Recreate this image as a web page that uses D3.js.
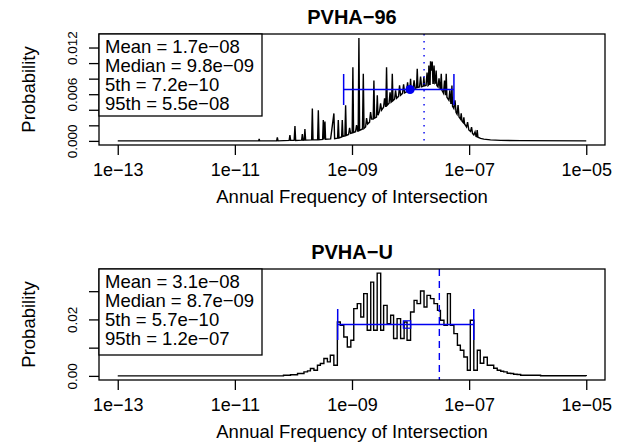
<!DOCTYPE html>
<html><head><meta charset="utf-8">
<script src="https://cdn.jsdelivr.net/npm/d3@7"></script>
<style>
body{margin:0;background:#fff}
svg{display:block;font-family:"Liberation Sans",Arial,Helvetica,sans-serif}
</style>
</head><body>
<svg width="625" height="442"></svg>
<script>
// x axis (log10 of annual frequency)
const xTicks = [1e-13, 1e-11, 1e-9, 1e-7, 1e-5];
const statNames = ["Mean", "Median", "5th", "95th"];

// PVHA-96 : log10 frequency and probability (line with spikes)
const logFreq96 = [-13,-10.73,-10.594,-10.585,-10.577,-10.287,-10.275,-10.263,-10.073,-10.06,-10.048,-9.988,-9.974,-9.962,
  -9.86,-9.848,-9.836,-9.816,-9.804,-9.792,-9.689,-9.677,-9.666,-9.587,-9.575,-9.563,-9.502,-9.49,-9.478,-9.462,-9.451,
  -9.365,-9.309,-9.297,-9.246,-9.234,-9.222,-9.177,-9.166,-9.154,-9.121,-9.109,-9.097,-9.058,-9.041,-9.024,-8.997,-8.985,-8.973,
  -8.939,-8.922,-8.904,-8.894,-8.882,-8.87,-8.821,-8.807,-8.795,-8.768,-8.751,-8.734,-8.7,-8.683,-8.666,-8.638,-8.626,-8.614,
  -8.582,-8.568,-8.556,-8.529,-8.512,-8.495,-8.461,-8.444,-8.427,-8.422,-8.41,-8.398,-8.367,-8.35,-8.333,-8.324,-8.312,-8.3,
  -8.273,-8.256,-8.239,-8.205,-8.188,-8.171,-8.137,-8.119,-8.102,-8.068,-8.051,-8.034,-8.012,-8.0,-7.988,-7.957,-7.94,-7.923,
  -7.898,-7.886,-7.874,-7.846,-7.829,-7.812,-7.785,-7.773,-7.761,-7.735,-7.718,-7.701,-7.693,-7.688,-7.676,-7.667,-7.659,-7.642,
  -7.63,-7.618,-7.613,-7.599,-7.585,-7.573,-7.563,-7.551,-7.531,-7.514,-7.497,-7.488,-7.476,-7.464,-7.437,-7.42,-7.403,-7.391,
  -7.379,-7.346,-7.329,-7.312,-7.305,-7.294,-7.283,-7.261,-7.241,-7.224,-7.206,-7.189,-7.172,-7.147,-7.135,-7.123,-7.102,-7.09,
  -7.078,-7.044,-7.027,-7.005,-6.976,-6.959,-6.942,-6.92,-6.899,-6.882,-6.874,-6.862,-6.85,-6.805,-6.749,-6.635,-6.464,-6.123,-5];
const prob96 = [0,0,0,0.00025,0,0,0.00045,0,0.00006,0.00076,0.00006,0.00006,0.00191,0.00006,
  0.00009,0.00089,0.00009,0.0001,0.00153,0.0001,0.00013,0.00417,0.00013,0.00015,0.00395,0.00015,0.00019,0.00268,0.00019,0.00248,0.00022,
  0.00025,0.00353,0.00029,0.00034,0.00268,0.00038,0.00051,0.00268,0.00057,0.00064,0.00459,0.0007,0.00083,0.00166,0.00096,0.00102,0.00946,0.00108,
  0.00118,0.00204,0.00127,0.00127,0.01321,0.00134,0.00153,0.00862,0.00159,0.00178,0.00293,0.00217,0.00242,0.00369,0.0028,0.0028,0.00777,0.00293,
  0.00306,0.00586,0.00331,0.00382,0.00484,0.00395,0.00433,0.00548,0.00446,0.00446,0.00946,0.00459,0.00484,0.00624,0.00497,0.00503,0.00862,0.00516,
  0.00535,0.0065,0.00548,0.00573,0.00713,0.00586,0.00611,0.00726,0.00618,0.00631,0.00752,0.00637,0.0065,0.00799,0.00656,0.00669,0.00777,0.00675,
  0.00682,0.00926,0.00688,0.00694,0.00828,0.00694,0.00701,0.00819,0.00707,0.00713,0.00879,0.00713,0.0072,0.00968,0.00726,0.00726,0.01023,0.00904,
  0.01019,0.00739,0.00739,0.00968,0.00739,0.00745,0.00904,0.00713,0.00694,0.00803,0.00675,0.00675,0.00862,0.0065,0.00611,0.00777,0.00586,0.00862,
  0.00561,0.00522,0.0065,0.00484,0.00484,0.00713,0.00446,0.00417,0.00522,0.00369,0.00344,0.00459,0.00306,0.0028,0.00353,0.00255,0.00236,0.00302,
  0.00217,0.00178,0.00242,0.0014,0.00121,0.00178,0.00096,0.00076,0.00115,0.00057,0.00055,0.0014,0.00047,0.00032,0.00022,0.00013,0.00006,0.00003,0];
const stats96 = [1.7e-8, 9.8e-9, 7.2e-10, 5.5e-8];

// PVHA-U : log10 frequency (bin start) and probability (step histogram)
const logFreqU = [-13,-10.17,-10.05,-9.93,-9.88,-9.82,-9.76,-9.71,-9.65,-9.59,-9.54,-9.48,-9.42,-9.37,-9.31,-9.25,-9.2,-9.14,
  -9.08,-9.02,-8.97,-8.91,-8.85,-8.8,-8.74,-8.68,-8.63,-8.57,-8.51,-8.46,-8.4,-8.34,-8.29,-8.23,-8.17,-8.11,-8.06,-8.0,-7.94,
  -7.89,-7.83,-7.77,-7.72,-7.66,-7.6,-7.54,-7.49,-7.43,-7.37,-7.32,-7.26,-7.2,-7.15,-7.09,-7.03,-6.98,-6.92,-6.86,-6.81,-6.75,
  -6.69,-6.64,-6.58,-6.52,-6.46,-6.41,-6.35,-6.29,-6.24,-6.18,-6.12,-6.01,-5.78,-5];
const probU = [0,0.00025,0.00042,0.00085,0.00085,0.00141,0.00177,0.00261,0.00201,0.00378,0.00438,0.00615,0.00495,0.00731,0.00378,0.01908,0.01792,0.01378,
  0.01025,0.01261,0.02382,0.02558,0.02085,0.02912,0.01615,0.03322,0.01615,0.0364,0.01615,0.02498,0.01852,0.02145,0.01322,0.02028,0.01322,0.01908,0.01261,0.02261,0.02675,
  0.02558,0.03004,0.02438,0.02852,0.02735,0.02558,0.02322,0.01968,0.01792,0.02912,0.01792,0.01498,0.01085,0.00908,0.00671,0.00201,0.01968,0.00201,0.00908,0.00449,0.00661,
  0.00378,0.00378,0.00272,0.00201,0.00166,0.00141,0.00095,0.00085,0.0006,0.00049,0.00025,0.00025,0.00007,0];
const statsU = [3.1e-8, 8.7e-9, 5.7e-10, 1.2e-7];

const yTicks96 = [0, 0.002, 0.004, 0.006, 0.008, 0.010, 0.012];
const yLabels96 = [0, 0.006, 0.012];
const yTicksU = [0, 0.01, 0.02, 0.03];
const yLabelsU = [0, 0.02];

const svg = d3.select('svg');
const blue = '#0000f0';

// R style exponent format: 1.7e-08
function rExp(v, digits) {
  const parts = v.toExponential(digits).split('e');
  const n = +parts[1];
  return parts[0] + 'e' + (n < 0 ? '\u2212' : '+') + String(Math.abs(n)).padStart(2, '0');
}

function panel(cfg) {
  const left = 99, right = 605, top = cfg.top, bottom = cfg.top + 111;
  const data = cfg.logFreq.map((l, i) => ({f: Math.pow(10, l), p: cfg.prob[i]}));
  const lo = d3.min(cfg.logFreq), hi = d3.max(cfg.logFreq), pad = (hi - lo) * 0.04;
  const x = d3.scaleLog().domain([Math.pow(10, lo - pad), Math.pow(10, hi + pad)]).range([left, right]);
  const M = d3.max(cfg.prob);
  const y = d3.scaleLinear().domain([-0.04 * M, 1.04 * M]).range([bottom, top]);
  const g = svg.append('g');

  // data line
  g.append('path').datum(data)
    .attr('fill', 'none').attr('stroke', '#000').attr('stroke-width', 1.4)
    .attr('stroke-linejoin', 'miter')
    .attr('d', d3.line().x(d => x(d.f)).y(d => y(d.p)).curve(cfg.step ? d3.curveStepAfter : d3.curveLinear));

  // mean line
  g.append('line')
    .attr('x1', x(cfg.stats[0])).attr('x2', x(cfg.stats[0]))
    .attr('y1', top).attr('y2', bottom)
    .attr('stroke', blue).attr('stroke-width', 1.4)
    .attr('stroke-dasharray', cfg.step ? '7,5' : '1.5,5.5');

  // 5th - 95th bar at half max
  const hy = y(M / 2);
  g.append('line').attr('x1', x(cfg.stats[2])).attr('x2', x(cfg.stats[3]))
    .attr('y1', hy).attr('y2', hy).attr('stroke', blue).attr('stroke-width', 1.5);
  [cfg.stats[2], cfg.stats[3]].forEach(v => {
    g.append('line').attr('x1', x(v)).attr('x2', x(v))
      .attr('y1', hy - 15.5).attr('y2', hy + 15.5).attr('stroke', blue).attr('stroke-width', 1.5);
  });
  if (cfg.step) {
    g.append('rect').attr('x', x(cfg.stats[1]) - 3.7).attr('y', hy - 3.7)
      .attr('width', 7.4).attr('height', 7.4).attr('fill', 'none').attr('stroke', blue).attr('stroke-width', 1.2);
  } else {
    g.append('circle').attr('cx', x(cfg.stats[1])).attr('cy', hy).attr('r', 4.6).attr('fill', blue);
  }

  // box
  g.append('rect').attr('x', left).attr('y', top).attr('width', right - left).attr('height', bottom - top)
    .attr('fill', 'none').attr('stroke', '#000').attr('stroke-width', 1.3);

  // x axis
  const xa = g.append('g').attr('transform', `translate(0,${bottom})`)
    .call(d3.axisBottom(x).tickValues(xTicks).tickSize(10).tickSizeOuter(0).tickFormat(d => rExp(d, 0)));
  xa.select('.domain').remove();
  xa.selectAll('line').attr('stroke', '#000').attr('stroke-width', 1.3);
  xa.selectAll('text').attr('y', 31).attr('dy', null)
    .style('font-size', '18px').style('font-family', null).attr('fill', '#000');

  // y axis
  const ya = g.append('g').attr('transform', `translate(${left},0)`)
    .call(d3.axisLeft(y).tickValues(cfg.yTicks).tickSize(10).tickSizeOuter(0)
      .tickFormat(d => cfg.yLabels.some(v => Math.abs(v - d) < 1e-9) ? d3.format(cfg.yFmt)(d) : ''));
  ya.select('.domain').remove();
  ya.selectAll('line').attr('stroke', '#000').attr('stroke-width', 1.3);
  ya.selectAll('text').attr('x', null).attr('dy', null).attr('text-anchor', 'middle')
    .attr('transform', 'translate(-22.5,0) rotate(-90)')
    .style('font-size', '13.5px').style('font-family', null).attr('fill', '#000');

  // titles
  g.append('text').attr('x', (left + right) / 2).attr('y', top - 10).attr('text-anchor', 'middle')
    .style('font-size', '20px').style('font-weight', 'bold').text(cfg.title);
  g.append('text').attr('x', (left + right) / 2).attr('y', top + 169).attr('text-anchor', 'middle')
    .style('font-size', '18.5px').text('Annual Frequency of Intersection');
  g.append('text').attr('transform', `translate(35,${(top + bottom) / 2}) rotate(-90)`)
    .attr('text-anchor', 'middle').style('font-size', '18.5px').text('Probability');

  // legend
  g.append('rect').attr('x', left).attr('y', top).attr('width', 163).attr('height', cfg.legendH)
    .attr('fill', '#fff').attr('stroke', '#000').attr('stroke-width', 1.3);
  g.selectAll('.leg').data(statNames).enter().append('text')
    .attr('x', 105).attr('y', (d, i) => top + 18.7 + i * 19.1)
    .style('font-size', '18.5px')
    .text((d, i) => d + ' = ' + rExp(cfg.stats[i], 1));
}

panel({top: 34, title: 'PVHA\u221296', logFreq: logFreq96, prob: prob96, stats: stats96,
  yTicks: yTicks96, yLabels: yLabels96, yFmt: '.3f', step: false, legendH: 82});
panel({top: 269, title: 'PVHA\u2212U', logFreq: logFreqU, prob: probU, stats: statsU,
  yTicks: yTicksU, yLabels: yLabelsU, yFmt: '.2f', step: true, legendH: 86});
</script>
</body></html>
